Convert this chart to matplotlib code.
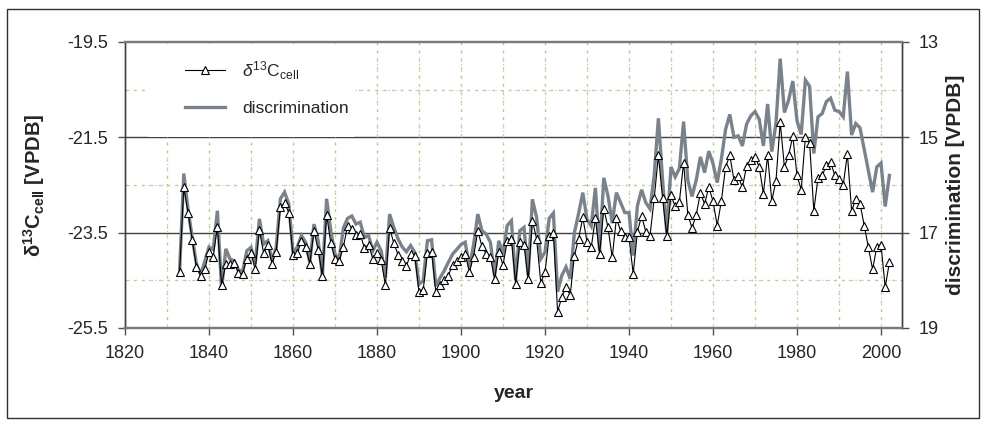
import numpy as np
import matplotlib
matplotlib.use('Agg')
import matplotlib.pyplot as plt
from matplotlib.patches import Rectangle

plt.rcParams['font.family'] = ['Liberation Sans', 'DejaVu Sans']
plt.rcParams['axes.unicode_minus'] = False
plt.rcParams['mathtext.fontset'] = 'custom'
plt.rcParams['mathtext.rm'] = 'Liberation Sans'
plt.rcParams['mathtext.it'] = 'Liberation Sans:italic'
plt.rcParams['mathtext.bf'] = 'Liberation Sans:bold'

# annual values, 1833-2002
years = np.arange(1833, 2003)

d13c_cell = [
    -24.32, -22.55, -23.08, -23.65, -24.22, -24.40, -24.27, -23.90, -24.00, -23.38,
    -24.60, -24.15, -24.16, -24.14, -24.35, -24.36, -24.05, -23.93, -24.27, -23.45,
    -23.93, -23.75, -24.15, -23.90, -22.97, -22.88, -23.08, -23.97, -23.93, -23.68,
    -23.80, -24.15, -23.46, -23.87, -24.40, -23.12, -23.72, -24.06, -24.10, -23.80,
    -23.35, -23.42, -23.55, -23.53, -23.82, -23.75, -24.05, -23.92, -24.08, -24.60,
    -23.40, -23.72, -23.96, -24.10, -24.20, -23.95, -23.98, -24.75, -24.70, -23.93,
    -23.90, -24.75, -24.59, -24.50, -24.40, -24.17, -24.10, -24.00, -23.95, -24.32,
    -24.00, -23.46, -23.79, -23.95, -24.00, -24.48, -23.90, -24.18, -23.68, -23.63,
    -24.57, -23.70, -23.75, -24.48, -23.25, -23.63, -24.55, -24.33, -23.57, -23.50,
    -25.16, -24.85, -24.64, -24.81, -23.98, -23.63, -23.18, -23.69, -23.81, -23.20,
    -23.95, -23.00, -23.39, -24.02, -23.20, -23.46, -23.60, -23.60, -24.36, -23.48,
    -23.15, -23.48, -23.57, -22.78, -21.88, -22.78, -23.58, -22.72, -22.95, -22.85,
    -22.03, -23.12, -23.40, -23.13, -22.66, -22.90, -22.54, -22.84, -23.35, -22.83,
    -22.12, -21.88, -22.40, -22.32, -22.55, -22.10, -21.98, -21.91, -22.12, -22.68,
    -21.88, -22.83, -22.41, -21.18, -22.12, -21.88, -21.47, -22.30, -22.60, -21.49,
    -21.62, -23.04, -22.35, -22.30, -22.09, -22.02, -22.30, -22.37, -22.50, -21.85,
    -23.04, -22.80, -22.89, -23.35, -23.80, -24.27, -23.80, -23.75, -24.65, -24.12,
]

discrimination = [
    17.80, 15.76, 16.50, 17.10, 17.65, 17.88, 17.60, 17.30, 17.35, 16.54,
    18.19, 17.34, 17.55, 17.59, 17.78, 17.82, 17.38, 17.31, 17.66, 16.71,
    17.24, 17.17, 17.59, 17.31, 16.29, 16.15, 16.40, 17.41, 17.31, 17.06,
    17.20, 17.62, 16.82, 17.17, 17.91, 16.29, 16.96, 17.45, 17.55, 16.90,
    16.70, 16.65, 16.82, 16.78, 17.10, 17.06, 17.38, 17.20, 17.38, 17.94,
    16.61, 16.89, 17.13, 17.30, 17.40, 17.27, 17.41, 18.08, 18.01, 17.17,
    17.15, 18.12, 17.95, 17.80, 17.62, 17.45, 17.35, 17.25, 17.20, 17.73,
    17.25, 16.61, 16.96, 17.03, 17.20, 17.90, 17.17, 17.45, 16.85, 16.75,
    18.00, 16.96, 16.89, 17.90, 16.30, 16.68, 17.55, 17.41, 16.70, 16.59,
    18.24, 17.90, 17.72, 17.97, 17.00, 16.60, 16.16, 16.72, 16.86, 16.06,
    17.38, 15.85, 16.23, 16.80, 16.16, 16.37, 16.58, 16.58, 17.48, 16.44,
    16.10, 16.37, 16.50, 15.80, 14.60, 15.90, 17.00, 15.62, 15.83, 15.65,
    14.67, 15.90, 16.24, 15.90, 15.41, 15.74, 15.29, 15.55, 15.95, 15.45,
    14.83, 14.52, 15.00, 14.97, 15.18, 14.72, 14.55, 14.46, 14.62, 15.18,
    14.30, 15.30, 14.70, 13.35, 14.48, 14.22, 13.82, 14.65, 14.94, 13.80,
    13.93, 15.34, 14.57, 14.50, 14.25, 14.18, 14.43, 14.46, 14.57, 13.62,
    14.95, 14.71, 14.80, 15.25, 15.70, 16.15, 15.62, 15.54, 16.45, 15.80,
]

left_ticks = [-25.5, -23.5, -21.5, -19.5]
right_ticks = [19, 17, 15, 13]
year_ticks = list(range(1820, 2001, 20))
grid_years = list(range(1830, 2001, 10))

GRAY = '#7a838c'
AXCOL = '#505050'

fig = plt.figure(figsize=(9.86, 4.26), dpi=100)
ax = fig.add_axes([125 / 986, 1 - 328 / 426, 777 / 986, 286 / 426])
ax2 = ax.twinx()
ax.set_zorder(ax2.get_zorder() + 1)
ax.patch.set_visible(False)


def dotted(draw, v):
    # grey dashes with small yellow-green dots between them
    draw(v, color='#c4c4c4', lw=1.0, ls=(0, (2, 4)), zorder=1)
    draw(v, color='#b9cf3c', lw=0.8, ls=(3, (1, 5)), zorder=1)


for v in (15, 17):
    ax2.axhline(v, color='#404040', lw=1.0, zorder=1)
for v in (14, 16, 18):
    dotted(ax2.axhline, v)
for yr in grid_years:
    dotted(ax2.axvline, yr)

h_disc, = ax2.plot(years, discrimination, color=GRAY, lw=2.4,
                   solid_joinstyle='miter', zorder=2)
h_cell, = ax.plot(years, d13c_cell, color='black', lw=0.8, marker='^', ms=5.5,
                  mfc='white', mec='black', mew=0.8, zorder=3)

ax.set_xlim(1820, 2005)
ax.set_ylim(-25.5, -19.5)
ax2.set_ylim(19, 13)

ax.set_xticks(year_ticks)
ax.set_xticklabels([str(y) for y in year_ticks])
ax.set_yticks(left_ticks)
ax.set_yticklabels([f'{v:.1f}' for v in left_ticks])
ax2.set_yticks(right_ticks)
ax2.set_yticklabels([str(v) for v in right_ticks])

for a in (ax, ax2):
    a.tick_params(direction='out', length=5, width=1.0, color=AXCOL,
                  labelcolor='#262626', labelsize=13, pad=7)
    for side in ('left', 'right'):
        a.spines[side].set_color('#404040')
        a.spines[side].set_linewidth(1.0)
    for side in ('top', 'bottom'):
        a.spines[side].set_color('#7a7a7a')
        a.spines[side].set_linewidth(1.6)

ax.set_xlabel('year', fontsize=14, fontweight='bold', color='#262626')
ax.xaxis.set_label_coords(0.5, -0.2)
ax.set_ylabel(r'$\mathbf{\delta^{13}C_{cell}}$ [VPDB]', fontsize=14.5,
              fontweight='bold', color='#262626')
ax.yaxis.set_label_coords(-0.1, 0.5)
ax2.set_ylabel('discrimination [VPDB]', fontsize=15, fontweight='bold',
               color='#262626')
ax2.yaxis.set_label_coords(1.056, 0.5)

# white box behind the legend, hiding the grid there
ax.add_patch(Rectangle((0.03, 0.668), 0.265, 0.326, transform=ax.transAxes,
                       facecolor='white', edgecolor='none', zorder=4))
leg = ax.legend([h_cell, h_disc],
                [r'$\delta^{13}\mathrm{C}_{\mathrm{cell}}$', 'discrimination'],
                loc='upper left', bbox_to_anchor=(0.077, 0.94), frameon=False,
                borderpad=0, borderaxespad=0, handlelength=2.3,
                handletextpad=1.0, labelspacing=1.1, fontsize=12.5)
leg.set_zorder(5)
for t in leg.get_texts():
    t.set_color('#262626')

# outer chart border
fig.add_artist(Rectangle((7 / 986, 1 - 418 / 426), 972 / 986, 409 / 426,
                         transform=fig.transFigure, fill=False,
                         edgecolor='#303030', lw=1.0))

fig.savefig('out.png', dpi=100)
